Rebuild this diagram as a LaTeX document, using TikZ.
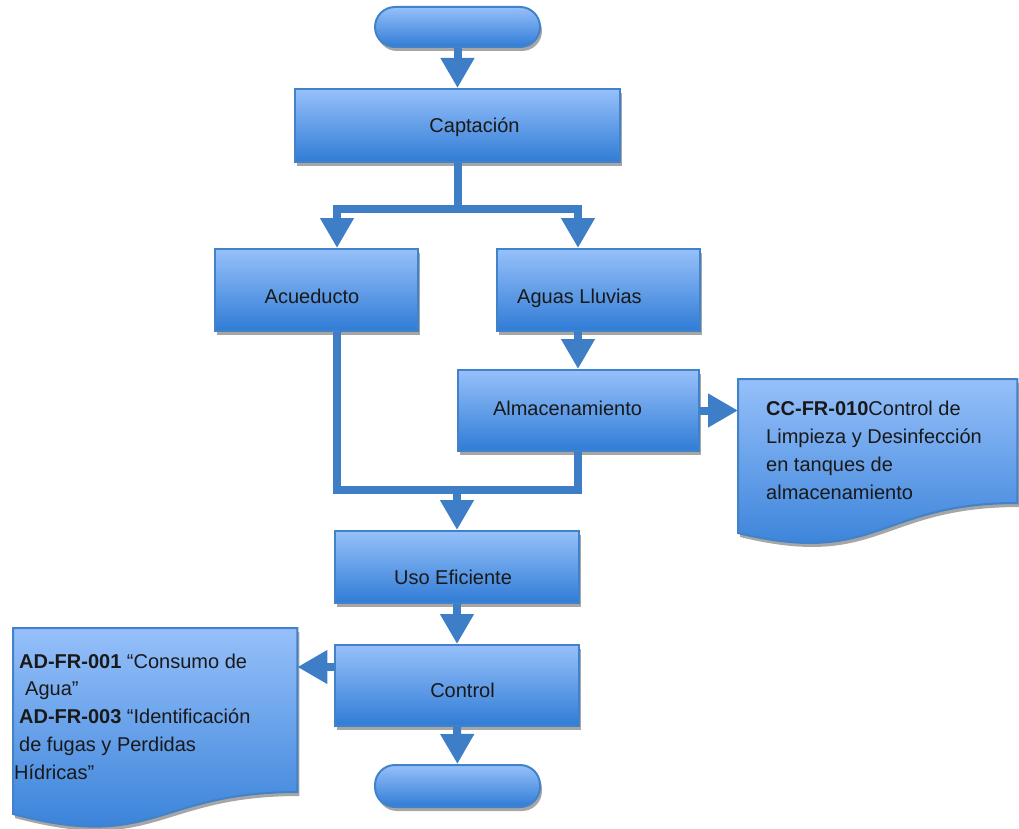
\documentclass[tikz,border=0pt]{standalone}
\usepackage{fontspec}
\setmainfont{Liberation Sans}
\usetikzlibrary{arrows.meta,shadows,calc}
\definecolor{lineblue}{RGB}{62,126,199}
\definecolor{topblue}{RGB}{150,192,250}
\definecolor{botblue}{RGB}{48,124,214}
\definecolor{edgeblue}{RGB}{66,130,200}
\tikzset{
  boxfill/.style={top color=topblue, bottom color=botblue, draw=edgeblue, line width=2pt},
  shad/.style={drop shadow={shadow xshift=2pt, shadow yshift=-4pt, opacity=0.35, fill=black}},
  procbox/.style={boxfill, shad, rectangle, inner sep=0pt},
  termbox/.style={boxfill, shad, rectangle, rounded corners=20pt, inner sep=0pt},
  lbl/.style={font=\fontsize{20}{28}\selectfont, text=black!90, inner sep=0pt, anchor=base},
  doctext/.style={font=\fontsize{20}{28}\selectfont, text=black!90, inner sep=0pt, align=left, anchor=base west},
  flow/.style={draw=lineblue, line width=8pt, line join=miter, -{Triangle[width=32pt,length=30pt]}},
  pipe/.style={draw=lineblue, line width=8pt, line join=miter},
}
\begin{document}
\begin{tikzpicture}[x=1pt,y=-1pt]
\useasboundingbox (0,0) rectangle (1019,829);

% documents
\node[inner sep=0pt, minimum width=279pt, minimum height=160pt, anchor=north west] (ccdoc) at (738,379) {};
\path[boxfill, shad] (ccdoc.north west) -- (ccdoc.north east) -- ($(ccdoc.north east)+(0,124)$)
  .. controls ($(ccdoc.north)+(0,124)$) and ($(ccdoc.north)+(0,188)$) .. ($(ccdoc.north west)+(0,154)$) -- cycle;
\node[inner sep=0pt, minimum width=284pt, minimum height=190pt, anchor=north west] (addoc) at (13,628) {};
\path[boxfill, shad] (addoc.north west) -- (addoc.north east) -- ($(addoc.north east)+(0,164)$)
  .. controls ($(addoc.north)+(0,164)$) and ($(addoc.north)+(0,224)$) .. ($(addoc.north west)+(0,186)$) -- cycle;

% boxes
\node[termbox, minimum width=165pt, minimum height=40pt] (start) at (457.5,27) {};
\node[procbox, minimum width=325pt, minimum height=73pt] (cap) at (457.5,125.5) {};
\node[procbox, minimum width=203pt, minimum height=82pt] (acu) at (316.5,290) {};
\node[procbox, minimum width=203pt, minimum height=82pt] (agu) at (598.5,290) {};
\node[procbox, minimum width=241pt, minimum height=81pt] (alm) at (578.5,410.5) {};
\node[procbox, minimum width=244pt, minimum height=72pt] (uso) at (457,567) {};
\node[procbox, minimum width=244pt, minimum height=81pt] (ctl) at (457,685.5) {};
\node[termbox, minimum width=165pt, minimum height=42pt] (end) at (457.5,786) {};

% labels
\node[lbl] (tcap) at (474.5,133) {Captación};
\node[lbl] (tacu) at (312,303) {Acueducto};
\node[lbl] (tagu) at (579.5,303) {Aguas Lluvias};
\node[lbl] (talm) at (567.5,415) {Almacenamiento};
\node[lbl] (tuso) at (453,584) {Uso Eficiente};
\node[lbl] (tctl) at (462.5,697) {Control};
% multi-line nodes: base anchor is the last line's baseline
\node[doctext] (tcc) at (766,499) {\textbf{CC-FR-010}Control de\\Limpieza y Desinfección\\en tanques de\\almacenamiento};
\node[doctext, font=\fontsize{20}{27.7}\selectfont] (tad) at (14,779) {\hspace*{5pt}\textbf{AD-FR-001} “Consumo de\\\hspace*{11pt}Agua”\\\hspace*{5pt}\textbf{AD-FR-003} “Identificación\\\hspace*{5pt}de fugas y Perdidas\\Hídricas”};

% connectors
\coordinate (split) at (457.5,209);
\coordinate (jl) at (337,209);
\coordinate (jr) at (578,209);
\coordinate (ml) at (337,490);
\coordinate (mr) at (578,490);
\coordinate (merge) at (457,490);
\draw[flow] (start) -- (cap);
\draw[pipe] (cap.south) -- (split);
\draw[flow] (split) -| (jl |- acu.north);
\draw[flow] (split) -| (jr |- agu.north);
\draw[flow] (agu.south -| jr) -- (alm.north -| jr);
\draw[flow] (alm.east) -- (alm.east -| ccdoc.west);
\draw[pipe] (acu.south -| ml) -- (ml) -- (mr) -- (alm.south -| mr);
\draw[flow] (merge) -- (uso.north);
\draw[flow] (uso) -- (ctl);
\path ($(ctl.west)+(0,-18.5)$) coordinate (cw);
\draw[flow] (cw) -- (cw -| addoc.east);
\draw[flow] (ctl) -- (end);
\end{tikzpicture}
\end{document}
